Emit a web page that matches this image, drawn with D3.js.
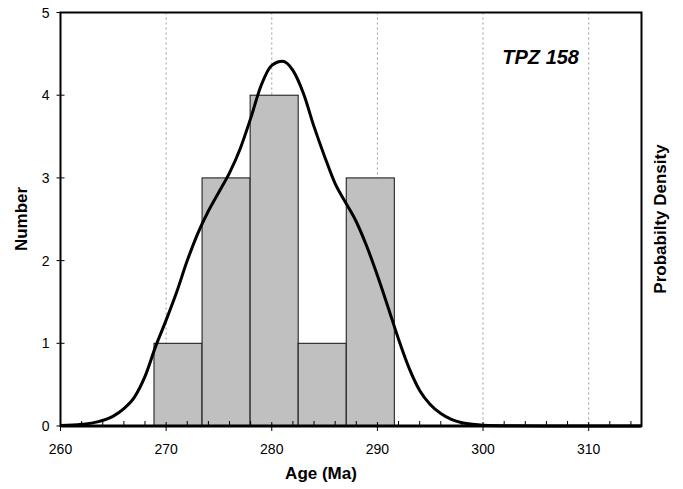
<!DOCTYPE html>
<html>
<head>
<meta charset="utf-8">
<script src="https://cdn.jsdelivr.net/npm/d3@7"></script>
<style>
  body { margin: 0; background: #fff; }
  text { font-family: "Liberation Sans", Arial, sans-serif; }
</style>
</head>
<body>
<svg id="chart" width="683" height="489"></svg>
<script>
// histogram bins (Ma) and counts
var binEdges = [268.85, 273.4, 277.95, 282.5, 287.05, 291.6]
var counts = [1, 3, 4, 1, 3]

// probability density curve, read in left-axis units
var curveAges = [260, 262, 263.5, 265, 266, 267, 268, 269, 270, 271, 272, 273, 274, 275, 276, 277,
    278, 279, 280, 281, 282, 283, 284, 285, 286, 287, 288, 289, 290, 291, 292, 293, 294, 295,
    296, 297, 298, 299, 300, 303, 306, 315]
var curveDensity = [0.005, 0.02, 0.05, 0.12, 0.21, 0.35, 0.6, 0.96, 1.28, 1.62, 2.0, 2.33, 2.6, 2.83, 3.06, 3.35,
    3.72, 4.12, 4.36, 4.41, 4.3, 4.02, 3.62, 3.26, 2.93, 2.7, 2.47, 2.17, 1.82, 1.44, 1.05, 0.7, 0.43, 0.26,
    0.15, 0.08, 0.04, 0.02, 0.01, 0.003, 0.001, 0]

var xTicks = [260, 270, 280, 290, 300, 310]
var xMinor = d3.range(262, 315, 2)
var yTicks = [0, 1, 2, 3, 4, 5]

var svg = d3.select('#chart')
var mLeft = 60.5, mRight = 641.5, mTop = 12.5, mBottom = 426

var x = d3.scaleLinear().domain([260, 315]).range([mLeft, mRight])
var y = d3.scaleLinear().domain([0, 5]).range([mBottom, mTop])

// dotted grid
svg.selectAll('.grid').data(xTicks.slice(1))
    .enter().append('line')
    .attr('x1', d => x(d)).attr('x2', d => x(d))
    .attr('y1', mTop).attr('y2', mBottom)
    .style('stroke', '#999').style('stroke-width', 1)
    .style('stroke-dasharray', '2,3')

// bars
svg.selectAll('.bar').data(counts)
    .enter().append('rect')
    .attr('x', (d, i) => x(binEdges[i]))
    .attr('width', (d, i) => x(binEdges[i + 1]) - x(binEdges[i]))
    .attr('y', d => y(d))
    .attr('height', d => y(0) - y(d))
    .style('fill', '#c0c0c0')
    .style('stroke', '#111')
    .style('stroke-width', 1)

// density curve
var line = d3.line()
    .x((d, i) => x(curveAges[i]))
    .y(d => y(d))
    .curve(d3.curveMonotoneX)
svg.append('path').datum(curveDensity)
    .attr('d', line)
    .style('fill', 'none')
    .style('stroke', '#000')
    .style('stroke-width', 3)

// frame
svg.append('rect')
    .attr('x', mLeft).attr('y', mTop)
    .attr('width', mRight - mLeft).attr('height', mBottom - mTop)
    .style('fill', 'none').style('stroke', '#000').style('stroke-width', 2)
svg.append('line')
    .attr('x1', mLeft).attr('x2', mRight).attr('y1', mBottom).attr('y2', mBottom)
    .style('stroke', '#000').style('stroke-width', 3)

// x ticks
svg.selectAll('.xminor').data(xMinor.filter(d => d % 10 != 0))
    .enter().append('line')
    .attr('x1', d => x(d)).attr('x2', d => x(d))
    .attr('y1', mBottom).attr('y2', mBottom - 5)
    .style('stroke', '#000').style('stroke-width', 1)
svg.selectAll('.xmajor').data(xTicks)
    .enter().append('line')
    .attr('x1', d => x(d)).attr('x2', d => x(d))
    .attr('y1', mBottom - 4).attr('y2', mBottom + 5)
    .style('stroke', '#000').style('stroke-width', 1)
svg.selectAll('.xlabel').data(xTicks)
    .enter().append('text')
    .attr('x', d => x(d)).attr('y', mBottom + 28)
    .attr('text-anchor', 'middle')
    .style('font-size', '14px')
    .text(d => d)

// y ticks
svg.selectAll('.ytick').data(yTicks)
    .enter().append('line')
    .attr('x1', mLeft - 4).attr('x2', mLeft + 4)
    .attr('y1', d => y(d)).attr('y2', d => y(d))
    .style('stroke', '#000').style('stroke-width', 1)
svg.selectAll('.ylabel').data(yTicks)
    .enter().append('text')
    .attr('x', mLeft - 11).attr('y', d => y(d) + 5)
    .attr('text-anchor', 'end')
    .style('font-size', '14px')
    .text(d => d)

// titles
svg.append('text')
    .attr('x', 321).attr('y', 479)
    .attr('text-anchor', 'middle')
    .style('font-size', '17px').style('font-weight', 'bold')
    .text('Age (Ma)')
svg.append('text')
    .attr('transform', 'translate(27,219) rotate(-90)')
    .attr('text-anchor', 'middle')
    .style('font-size', '17px').style('font-weight', 'bold')
    .text('Number')
svg.append('text')
    .attr('transform', 'translate(666,219) rotate(-90)')
    .attr('text-anchor', 'middle')
    .style('font-size', '17px').style('font-weight', 'bold')
    .text('Probabilty Density')
svg.append('text')
    .attr('x', 579).attr('y', 64)
    .attr('text-anchor', 'end')
    .style('font-size', '20px').style('font-weight', 'bold').style('font-style', 'italic')
    .text('TPZ 158')
</script>
</body>
</html>
